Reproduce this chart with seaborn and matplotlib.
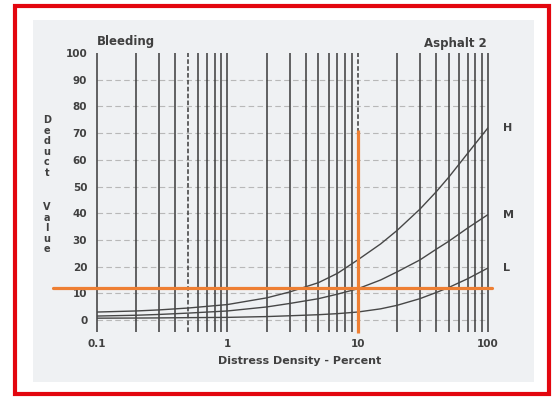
import numpy as np
import pandas as pd
import matplotlib
matplotlib.use("Agg")
import matplotlib.pyplot as plt
import seaborn as sns
from matplotlib.patches import Rectangle
from matplotlib.ticker import NullLocator

# Deduct value curves for bleeding on asphalt pavement (three severity levels)
density = [0.1, 0.2, 0.3, 0.5, 1, 2, 3, 5, 7, 10, 15, 20, 30, 40, 50, 70, 100]
deduct_high = [3, 3.4, 3.8, 4.5, 5.8, 8.3, 10.5, 14, 17.5, 22.5, 28.5, 33.5,
               41.5, 48, 53.5, 62.5, 72]
deduct_medium = [1.5, 1.8, 2.1, 2.6, 3.4, 4.9, 6.2, 8, 9.7, 11.7, 15, 18,
                 22.5, 26.5, 29.5, 34.5, 39.5]
deduct_low = [0.7, 0.75, 0.8, 0.9, 1.0, 1.3, 1.6, 2.0, 2.4, 3.0, 4.2, 5.5,
              8, 10.3, 12.2, 15.5, 19.5]
severity = ["H", "M", "L"]

x_ticks = [0.1, 1, 10, 100]
x_tick_labels = ["0.1", "1", "10", "100"]
y_ticks = list(range(0, 101, 10))

# worked reading: 10 % density -> deduct value of about 12
reading_density = 10
reading_deduct = 12
reading_top = 71

sns.set_theme(style="white")
plt.rcParams["font.family"] = ["DejaVu Sans"]

W, H = 553, 397
fig = plt.figure(figsize=(W / 100, H / 100), dpi=100)
fig.patch.set_facecolor("white")


def fx(px):
    return px / W


def fy(py):
    return 1 - py / H


# scanned sheet
fig.patches.append(Rectangle((fx(33), fy(382)), fx(534 - 33), (382 - 20) / H,
                             transform=fig.transFigure, facecolor="#eff1f3",
                             edgecolor="none", zorder=-10))
# red frame
fig.patches.append(Rectangle((fx(15), fy(394)), fx(549 - 15), (394 - 6) / H,
                             transform=fig.transFigure, fill=False,
                             edgecolor="#e3060f", linewidth=3, zorder=5))

ax = fig.add_axes([fx(97), fy(333.4), fx(391), (333.4 - 53) / H])
ax.set_facecolor("none")
ax.set_xscale("log")
ax.set_xlim(0.1, 100)
ax.set_ylim(-5, 100)
for s in ax.spines.values():
    s.set_visible(False)

ink = "#3a3a3a"
text_ink = "#404040"

# log-cycle vertical rulings
rulings = list(np.outer([0.1, 1, 10], np.arange(1, 10)).ravel()) + [100]
for v in rulings:
    dashed = np.isclose(v, 0.5) or np.isclose(v, 10)
    ax.vlines(v, -4.5, 100, color=ink, linewidth=1.1,
              linestyle=(0, (3, 1.5)) if dashed else "-", clip_on=False, zorder=2)

# horizontal dashed rulings
for yv in y_ticks[:-1]:
    ax.axhline(yv, color="#b8b8b8", linewidth=0.8, linestyle=(0, (5, 3)), zorder=1)

df = pd.DataFrame({
    "density": density * 3,
    "deduct": deduct_high + deduct_medium + deduct_low,
    "severity": [s for s in severity for _ in density],
})
sns.lineplot(data=df, x="density", y="deduct", hue="severity",
             palette={s: "#474747" for s in severity}, estimator=None,
             legend=False, linewidth=1.0, ax=ax, zorder=3)

for lab, vals in zip(severity, [deduct_high, deduct_medium, deduct_low]):
    ax.annotate(lab, xy=(density[-1], vals[-1]), xytext=(11, 0),
                textcoords="offset points", ha="left", va="center",
                fontsize=8, fontweight="bold", color=text_ink)

# reading lines
orange = "#ee7f33"
ax.axhline(reading_deduct, xmin=-0.113, xmax=1.01, color=orange,
           linewidth=2.3, clip_on=False, zorder=4)
ax.vlines(reading_density, -5, reading_top, color=orange, linewidth=2.3,
          clip_on=False, zorder=4)

ax.xaxis.set_minor_locator(NullLocator())
ax.set_xticks(x_ticks, x_tick_labels)
ax.set_yticks(y_ticks, [str(v) for v in y_ticks])
ax.tick_params(axis="x", length=0, pad=4, labelsize=7.5, labelcolor=text_ink)
ax.tick_params(axis="y", length=0, pad=7, labelsize=7.5, labelcolor=text_ink)
for t in ax.get_xticklabels() + ax.get_yticklabels():
    t.set_fontweight("bold")
ax.set_xlabel("")
ax.set_ylabel("")

fig.text(fx(300), fy(361), "Distress Density - Percent", ha="center", va="center",
         fontsize=8, fontweight="bold", color=text_ink)
fig.text(fx(97), fy(41), "Bleeding", ha="left", va="center",
         fontsize=8.5, fontweight="bold", color=text_ink)
fig.text(fx(487), fy(43), "Asphalt 2", ha="right", va="center",
         fontsize=8.5, fontweight="bold", color=text_ink)

# stacked axis title
word_starts = [120, 207]
for word, start in zip("Deduct Value".split(), word_starts):
    for i, ch in enumerate(word):
        fig.text(fx(47), fy(start + i * 10.6), ch, ha="center", va="center",
                 fontsize=7, fontweight="bold", color=text_ink)

fig.savefig("out.png", dpi=100)
